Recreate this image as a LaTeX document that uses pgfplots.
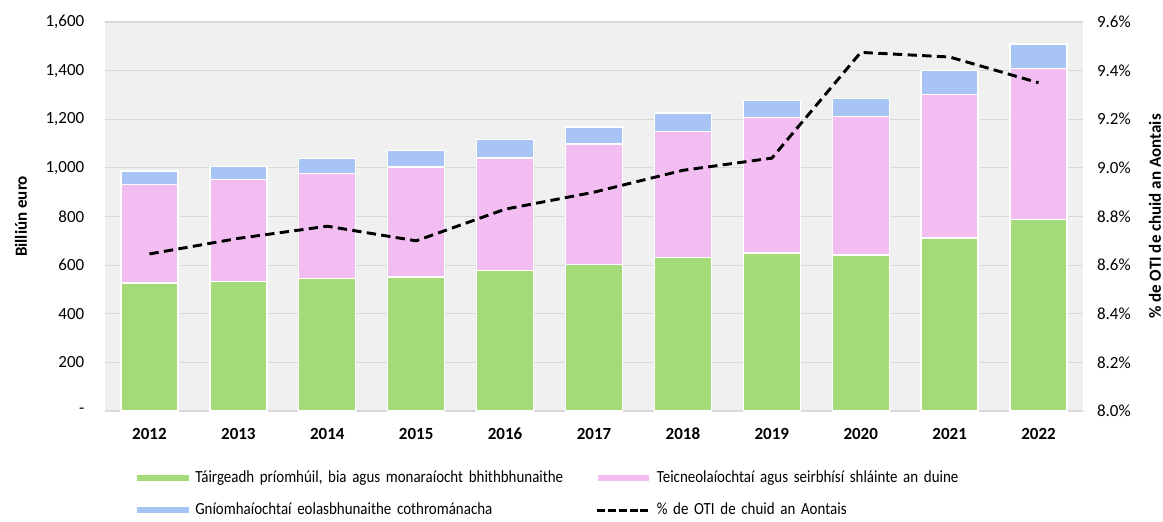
\documentclass[border=0pt]{standalone}
\usepackage{pgfplots}
\usepackage{pgfplotstable}
\pgfplotsset{compat=1.18}
\usepackage{fontspec}
\setmainfont{Carlito}
\newfontfamily\legfont[FakeStretch=0.88]{Carlito}
\definecolor{cgreen}{HTML}{A4DA7A}
\definecolor{cpink}{HTML}{F2BEF2}
\definecolor{cblue}{HTML}{A8C4F5}
\definecolor{bgc}{HTML}{F0F0F0}
\definecolor{gridc}{HTML}{D9D9D9}
\newcommand{\fs}{\fontsize{12.75}{15}\selectfont}

\pgfplotstableread{
x green pink blue pct
0 526 406 55 8.646
1 533 418 55 8.71
2 544 433 62 8.76
3 551 452 69 8.70
4 577 464 77 8.83
5 602 496 70 8.90
6 630 519 77 8.99
7 650 557 69 9.04
8 641 570 74 9.475
9 711 592 98 9.456
10 788 621 100 9.35
}\datatable

\begin{document}
\begin{tikzpicture}[font=\fs]
\path[use as bounding box] (-78.75pt,-82.5pt) rectangle (793.5pt,308.25pt);
\begin{axis}[
  at={(0pt,0pt)}, anchor=south west,
  scale only axis, width=733.5pt, height=291.75pt,
  xmin=-0.5, xmax=10.5, ymin=0, ymax=1600,
  ybar stacked, bar width=42.75pt,
  axis background/.style={fill=bgc},
  axis line style={draw=none},
  ymajorgrids, grid style={gridc, line width=0.8pt},
  major tick length=0pt,
  ytick={0,200,400,600,800,1000,1200,1400,1600},
  yticklabels={-,200,400,600,800,{1,000},{1,200},{1,400},{1,600}},
  yticklabel style={font=\fs, xshift=-12pt},
  xtick={0,1,2,3,4,5,6,7,8,9,10},
  xticklabels={2012,2013,2014,2015,2016,2017,2018,2019,2020,2021,2022},
  xticklabel style={font=\fs\bfseries, yshift=-9.25pt},
  ylabel={Billiún euro},
  ylabel style={font=\fs\bfseries, at={(axis description cs:-0.0859,0.5)}, anchor=center},
  legend columns=2,
  legend cell align=left,
  legend style={at={(0,0)}, anchor=north west, xshift=24pt, yshift=-42.25pt,
    draw=none, fill=none, inner sep=0pt, row sep=8pt,
    font=\legfont\fs,
    nodes={text height=9pt, text depth=3pt, inner sep=2pt, text width=290pt},
    /tikz/every odd column/.append style={column sep=3pt},
    /tikz/every even column/.append style={column sep=8pt}},
]
\addplot[fill=cgreen, draw=white, line width=1pt,
  legend image code/.code={\fill[cgreen] (0pt,-1.9pt) rectangle (37.5pt,1.9pt);}]
  table[x=x, y=green]{\datatable};
\addlegendentry{Táirgeadh príomhúil, bia agus monaraíocht bhithbhunaithe}
\addplot[fill=cpink, draw=white, line width=1pt,
  legend image code/.code={\fill[cpink] (0pt,-1.9pt) rectangle (37.5pt,1.9pt);}]
  table[x=x, y=pink]{\datatable};
\addlegendentry{Teicneolaíochtaí agus seirbhísí shláinte an duine}
\addplot[fill=cblue, draw=white, line width=1pt,
  legend image code/.code={\fill[cblue] (0pt,-1.9pt) rectangle (37.5pt,1.9pt);}]
  table[x=x, y=blue]{\datatable};
\addlegendentry{Gníomhaíochtaí eolasbhunaithe cothrománacha}
\addlegendimage{black, line width=2.2pt, dash pattern=on 6pt off 2.5pt,
  legend image code/.code={\draw[black, line width=2.2pt, dash pattern=on 6pt off 2.2pt] (-1.5pt,0pt) -- (37.5pt,0pt);}}
\addlegendentry{\% de OTI de chuid an Aontais}
\end{axis}
\begin{axis}[
  at={(0pt,0pt)}, anchor=south west,
  scale only axis, width=733.5pt, height=291.75pt,
  xmin=-0.5, xmax=10.5, ymin=8, ymax=9.6,
  axis y line*=right, axis x line=none,
  axis line style={draw=none},
  major tick length=0pt,
  ytick={8,8.2,8.4,8.6,8.8,9,9.2,9.4,9.6},
  yticklabels={8.0\%,8.2\%,8.4\%,8.6\%,8.8\%,9.0\%,9.2\%,9.4\%,9.6\%},
  yticklabel style={font=\fs, xshift=7pt},
  ylabel={\% de OTI de chuid an Aontais},
  ylabel style={font=\fs\bfseries, at={(axis description cs:1.0736,0.5)}, anchor=center, rotate=0},
]
\addplot[black, line width=2.2pt, dash pattern=on 7pt off 4pt] table[x=x, y=pct]{\datatable};
\end{axis}
\end{tikzpicture}
\end{document}
